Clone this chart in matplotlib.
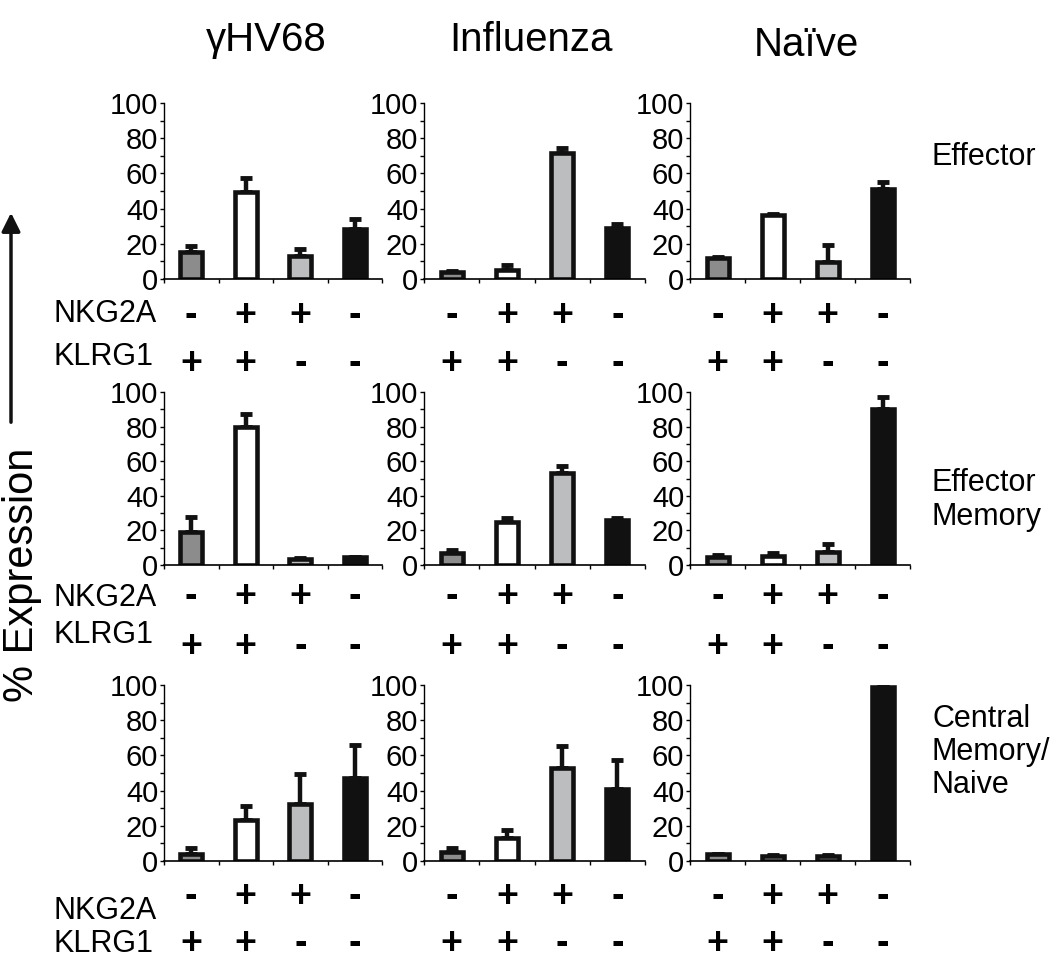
import matplotlib
matplotlib.use("Agg")
import matplotlib.pyplot as plt
from matplotlib.patches import FancyArrowPatch
from matplotlib.transforms import blended_transform_factory

plt.rcParams['font.family'] = ['Liberation Sans', 'DejaVu Sans']

# ---- data -----------------------------------------------------------
column_titles = ["\u03b3HV68", "Influenza", "Na\u00efve"]
row_titles = ["Effector", "Effector\nMemory", "Central\nMemory/\nNaive"]
nkg2a_signs = ["-", "+", "+", "-"]
klrg1_signs = ["+", "+", "-", "-"]
bar_colors = ["#8c8c8c", "#ffffff", "#bcbdbf", "#111111"]

# Effector
eff_ghv68 = [15.5, 49.5, 13.3, 28.5]
eff_ghv68_err = [3.5, 8.0, 3.7, 5.5]
eff_flu = [3.8, 5.3, 71.5, 29.2]
eff_flu_err = [0.5, 2.7, 2.8, 1.8]
eff_naive = [12.0, 36.4, 9.7, 51.2]
eff_naive_err = [0.3, 0.8, 9.9, 3.8]
# Effector Memory
em_ghv68 = [19.0, 79.7, 3.6, 4.4]
em_ghv68_err = [9.0, 7.3, 0.6, 0.4]
em_flu = [6.9, 24.6, 53.0, 26.2]
em_flu_err = [1.9, 2.6, 4.3, 1.1]
em_naive = [4.8, 5.2, 7.5, 90.4]
em_naive_err = [0.9, 1.5, 4.4, 6.6]
# Central Memory / Naive
cm_ghv68 = [4.0, 23.2, 32.6, 47.3]
cm_ghv68_err = [3.2, 7.8, 16.9, 18.7]
cm_flu = [5.2, 12.8, 52.6, 41.1]
cm_flu_err = [2.3, 4.8, 13.0, 16.3]
cm_naive = [3.8, 2.9, 3.1, 98.8]
cm_naive_err = [0.4, 0.4, 0.4, 0.6]

values = [[eff_ghv68, eff_flu, eff_naive],
          [em_ghv68, em_flu, em_naive],
          [cm_ghv68, cm_flu, cm_naive]]
errors = [[eff_ghv68_err, eff_flu_err, eff_naive_err],
          [em_ghv68_err, em_flu_err, em_naive_err],
          [cm_ghv68_err, cm_flu_err, cm_naive_err]]

# ---- layout (pixels) ------------------------------------------------
W, H = 1050, 960
fig = plt.figure(figsize=(W / 100, H / 100), dpi=100)

rows_px = [(103, 279), (392, 565), (685, 861)]
cols_px = [(164, 382), (424, 645), (690, 910)]
sign_off = [(37, 85), (32, 82), (36, 83)]
label_y = [(314, 357), (598, 635), (911, 944)]
row_title_y = [157, 500, 752]

tick_fs = 21
sign_fs = 27
xpos = [0.5, 1.5, 2.5, 3.5]

for r in range(3):
    y0, y1 = rows_px[r]
    for c in range(3):
        x0, x1 = cols_px[c]
        ax = fig.add_axes([x0 / W, 1 - y1 / H, (x1 - x0) / W, (y1 - y0) / H])
        vals = values[r][c]
        errs = errors[r][c]
        ax.bar(xpos, vals, width=0.4, color=bar_colors, edgecolor="#111111",
               linewidth=3.3, zorder=2)
        ax.errorbar(xpos, vals, yerr=[[0] * 4, errs], fmt="none",
                    ecolor="#111111", elinewidth=3.2, capsize=4, capthick=3.5,
                    zorder=1)
        ax.set_xlim(0, 4)
        ax.set_ylim(0, 100)
        ax.set_xticks([0, 1, 2, 3, 4])
        ax.set_xticklabels([])
        ax.set_yticks(range(0, 101, 20))
        ax.set_yticks(range(10, 100, 20), minor=True)
        ax.tick_params(axis="y", which="both", direction="out", length=3,
                       width=1, pad=1.2, labelsize=tick_fs)
        ax.tick_params(axis="x", direction="out", length=3, width=1)
        for s in ("top", "right"):
            ax.spines[s].set_visible(False)
        ax.spines["left"].set_linewidth(1)
        ax.spines["bottom"].set_linewidth(1.2)
        ax.patch.set_alpha(0)

        trans = blended_transform_factory(ax.transData, ax.transAxes)
        h = (y1 - y0)
        for i in range(4):
            ax.text(xpos[i], -sign_off[r][0] / h, nkg2a_signs[i], transform=trans,
                    ha="center", va="center", fontsize=sign_fs,
                    fontweight="bold", clip_on=False)
            ax.text(xpos[i], -sign_off[r][1] / h, klrg1_signs[i], transform=trans,
                    ha="center", va="center", fontsize=sign_fs,
                    fontweight="bold", clip_on=False)

    fig.text(54 / W, 1 - label_y[r][0] / H, "NKG2A", ha="left", va="center",
             fontsize=22)
    fig.text(54 / W, 1 - label_y[r][1] / H, "KLRG1", ha="left", va="center",
             fontsize=22)
    fig.text(932 / W, 1 - row_title_y[r] / H, row_titles[r], ha="left",
             va="center", fontsize=22, linespacing=1.15)

title_x = [266, 531, 806]
title_y = [40, 40, 45]
for c in range(3):
    fig.text(title_x[c] / W, 1 - title_y[c] / H, column_titles[c],
             ha="center", va="center", fontsize=29)

fig.text(22 / W, 1 - 575 / H, "% Expression", rotation=90, ha="center",
         va="center", fontsize=30)
arrow = FancyArrowPatch((11 / W, 1 - 425 / H), (11 / W, 1 - 210 / H),
                        transform=fig.transFigure, arrowstyle="-|>",
                        mutation_scale=28, linewidth=2.5, color="#111111")
fig.patches.append(arrow)

fig.savefig("out.png", dpi=100)
